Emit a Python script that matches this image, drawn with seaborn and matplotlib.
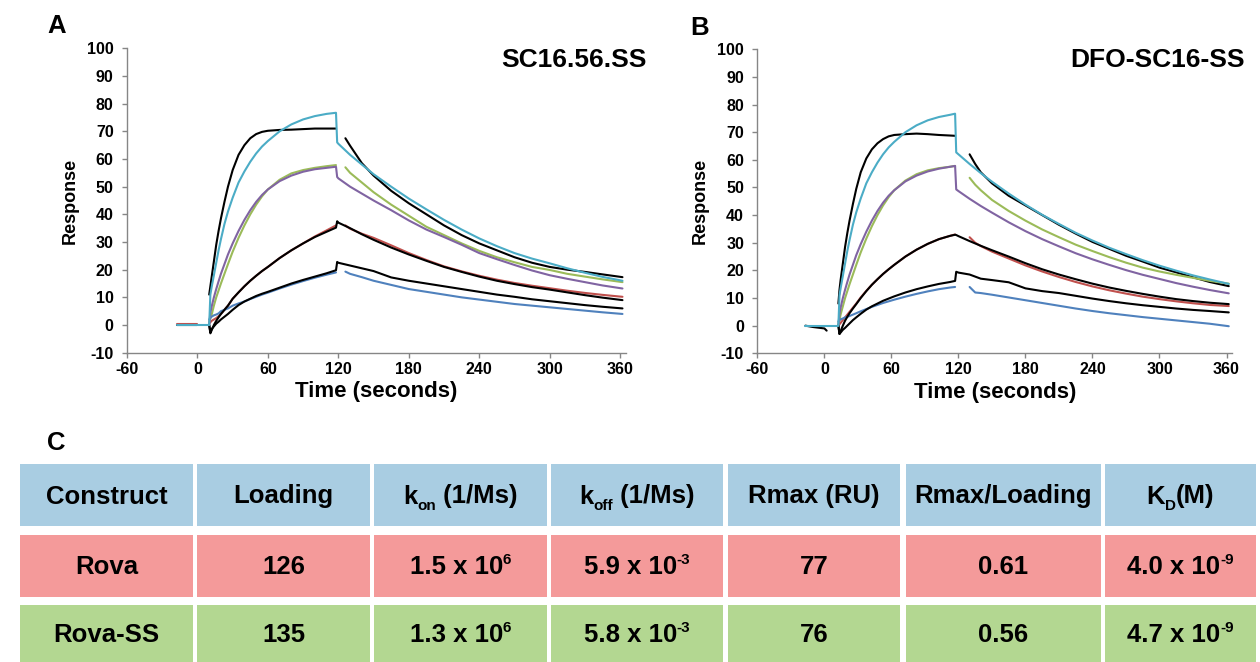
import matplotlib
matplotlib.use("Agg")
import matplotlib.pyplot as plt
import seaborn as sns
from matplotlib.patches import Rectangle

# ---------------- data ----------------
# Panel A : SC16.56.SS
A_T_BASE_FIT = [-17, 10]
A_T_BASE_DATA = [-17, 0]
A_T_ASSOC = [10, 11, 12, 14, 16, 18, 20, 23, 26, 30, 35, 40, 45, 50, 55, 60, 70, 80, 90, 100, 110, 118]
A_T_FIT_DISS = [119, 120, 130, 140, 150, 165, 180, 195, 210, 225, 240, 255, 270, 285, 300, 315, 330, 345, 362]
A_T_DATA_DISS = [126, 130, 140, 150, 165, 180, 195, 210, 225, 240, 255, 270, 285, 300, 315, 330, 345, 362]

A_CYAN_ASSOC = [0, 11, 13.5, 18, 22.5, 27, 31, 36.5, 41, 46, 51.5, 55.5, 59, 62, 64.5, 66.5, 70, 72.5, 74.3, 75.5, 76.3, 76.7]
A_CYAN_DISS = [66, 65.5, 61.5, 58, 54.5, 50, 45.7, 41.8, 38, 34.5, 31.3, 28.5, 26, 24, 22.3, 20.5, 18.9, 17.4, 16]
A_BLACK_ASSOC = [11, 14, 17, 23, 29, 34, 38.5, 44.5, 50, 56, 61.5, 65, 67.5, 69, 69.8, 70.2, 70.5, 70.6, 70.8, 71, 71, 71]
A_BLACK_DISS = [67.5, 64.8, 58.5, 54, 48.5, 44, 40, 36, 32.5, 29.5, 27, 24.5, 22.5, 21, 20, 19.2, 18.3, 17.3]
A_GREEN_ASSOC = [1, 2.5, 3.5, 7, 10, 12.5, 15, 18.5, 22, 26.5, 31.5, 36, 40, 43.5, 46.5, 49, 52.5, 54.8, 56, 56.8, 57.4, 57.8]
A_GREEN_DISS = [57, 55, 51.5, 48, 43.5, 39.5, 35.5, 32.5, 29.5, 26.8, 24.5, 22.7, 21, 19.9, 18.5, 17.5, 16.5, 15.5]
A_PURPLE_ASSOC = [0, 4.5, 6.5, 10, 13, 15.8, 18.5, 22, 25.5, 29.5, 34, 38, 41.5, 44.5, 47, 49, 52, 54, 55.4, 56.3, 56.8, 57.2]
A_PURPLE_DISS = [53.5, 53, 50, 47.5, 45, 41.5, 37.8, 34.5, 31.8, 29, 26, 23.8, 21.7, 19.7, 18, 16.7, 15.5, 14.3, 13.2]
A_RED_ASSOC = [0.5, 1, 1.5, 2, 2.5, 3.2, 4, 5.5, 7, 9.5, 11.8, 14, 16, 17.8, 19.5, 21, 24.2, 27, 29.5, 32, 34.2, 36]
A_RED_DISS = [36, 34.8, 33, 31.5, 28.8, 26, 23.5, 21.2, 19.4, 17.8, 16.4, 15.2, 14.2, 13.3, 12.4, 11.6, 10.9, 10.2]
A_FITMID_ASSOC = [0, -3, -2, 0, 1.5, 2.8, 4, 5.5, 7, 9.5, 11.8, 14, 16, 17.8, 19.5, 21, 24.2, 27, 29.5, 31.8, 33.7, 35.2]
A_FITMID_DISS = [37.5, 37, 35, 32.8, 30.8, 28, 25.5, 23.2, 21, 19.2, 17.5, 16, 14.8, 13.7, 12.8, 11.8, 10.8, 9.9, 9]
A_BLUE_ASSOC = [2, 2.5, 3, 3.5, 3.8, 4.2, 5, 5.5, 6, 7, 7.8, 8.5, 9.4, 10.2, 11, 11.7, 13.2, 14.6, 15.9, 17.1, 18.2, 19]
A_BLUE_DISS = [19.3, 18.5, 17.3, 16, 14.5, 13, 12, 11, 10, 9.2, 8.4, 7.6, 7, 6.4, 5.8, 5.2, 4.6, 4]
A_FITLOW_ASSOC = [0, -2.5, -1.5, -0.5, 0.5, 1.2, 2, 3, 4, 5.5, 7.2, 8.5, 9.5, 10.5, 11.3, 12, 13.5, 15, 16.3, 17.5, 18.7, 19.8]
A_FITLOW_DISS = [22.8, 22.5, 21.5, 20.5, 19.5, 17.2, 16, 15, 14, 13, 12, 11, 10.2, 9.3, 8.6, 7.9, 7.2, 6.6, 6]

# Panel B : DFO-SC16-SS
B_T_BASE_FIT = [-17, 12.5]
B_T_BASE_DATA = [-17, -10, 0, 2]
B_BASE_DATA = [0, -0.5, -1, -1.8]
B_T_ASSOC = [12.5, 13.5, 14.5, 16.5, 18.5, 20.5, 22.5, 25.5, 28.5, 32.5, 37.5, 42.5, 47.5, 52.5, 57.5, 62.5, 72.5, 82.5, 92.5, 102.5, 112.5, 117]
B_T_FIT_DISS = [118, 120, 130, 140, 150, 165, 180, 195, 210, 225, 240, 255, 270, 285, 300, 315, 330, 345, 362]
B_T_DATA_DISS = [130, 135, 140, 150, 165, 180, 195, 210, 225, 240, 255, 270, 285, 300, 315, 330, 345, 362]

B_CYAN_ASSOC = [0, 11, 13.5, 18, 22.5, 27, 31, 36.5, 41, 46, 51.5, 55.5, 59, 62, 64.5, 66.5, 70, 72.5, 74.3, 75.5, 76.3, 76.7]
B_CYAN_DISS = [62.7, 62, 58.5, 55.2, 52.1, 47.8, 43.8, 40.1, 36.8, 33.6, 30.8, 28.2, 25.9, 23.7, 21.7, 19.9, 18.2, 16.7, 15.1]
B_BLACK_ASSOC = [8, 13, 16.5, 22.5, 28.5, 33.5, 38, 44, 49.5, 55.5, 60.5, 63.8, 66, 67.5, 68.5, 69, 69.3, 69.5, 69.3, 69, 68.8, 68.7]
B_BLACK_DISS = [62, 58.5, 55.5, 51.5, 47, 43.5, 40, 36.5, 33.3, 30.3, 27.8, 25.3, 23.2, 21, 19.3, 17.5, 15.8, 14.3]
B_GREEN_ASSOC = [0.5, 2, 4, 7, 10, 12.5, 15, 18.5, 22, 26.5, 31.5, 36, 40, 43.5, 46.5, 49, 52.5, 54.8, 56.2, 57, 57.5, 57.8]
B_GREEN_DISS = [53.5, 51, 49, 45.5, 41.5, 38, 34.8, 32, 29.3, 27, 24.8, 22.8, 21, 19.6, 18.4, 17.3, 16.2, 15.2]
B_PURPLE_ASSOC = [0, 4.5, 6.5, 10, 13, 15.8, 18.5, 22, 25.5, 29.5, 34, 38, 41.5, 44.5, 47, 49, 52.2, 54.3, 55.8, 56.8, 57.5, 57.8]
B_PURPLE_DISS = [49.3, 48.7, 45.9, 43.3, 40.9, 37.4, 34.2, 31.3, 28.7, 26.2, 24, 22, 20.1, 18.4, 16.9, 15.4, 14.1, 12.9, 11.7]
B_RED_ASSOC = [0, 0.5, 1, 2, 3, 4, 5, 6.5, 8, 10.2, 12.6, 14.8, 16.8, 18.7, 20.4, 22, 25, 27.5, 29.6, 31.3, 32.5, 33]
B_RED_DISS = [32, 30, 28.8, 26.8, 24.3, 21.8, 19.6, 17.6, 15.8, 14.2, 12.8, 11.6, 10.5, 9.6, 8.8, 8.1, 7.5, 7.1]
B_FITMID_ASSOC = [0, -3, -2, 0, 1.8, 3.2, 4.5, 6.2, 7.8, 10, 12.5, 14.8, 16.8, 18.7, 20.4, 22, 25, 27.5, 29.6, 31.3, 32.5, 32.9]
B_FITMID_DISS = [32.8, 32.4, 30.6, 28.9, 27.3, 25, 22.6, 20.4, 18.5, 16.8, 15.2, 13.8, 12.6, 11.5, 10.5, 9.6, 8.9, 8.3, 7.8]
B_BLUE_ASSOC = [1.5, 2, 2.3, 2.6, 3, 3.2, 3.5, 4, 4.5, 5.2, 6, 6.8, 7.5, 8.2, 8.8, 9.4, 10.5, 11.5, 12.4, 13.2, 13.8, 14]
B_BLUE_DISS = [14, 12, 11.8, 11.2, 10.2, 9.2, 8.2, 7.2, 6.2, 5.3, 4.5, 3.8, 3.1, 2.5, 1.9, 1.3, 0.7, -0.2]
B_FITLOW_ASSOC = [0, -3, -2.5, -1.5, -0.8, 0, 0.8, 2, 3, 4.3, 5.8, 7, 8, 9, 9.8, 10.6, 12, 13.2, 14.2, 15.1, 15.8, 16.2]
B_FITLOW_DISS = [19.5, 19.2, 18.5, 17, 16.5, 15.7, 13.5, 12.5, 11.8, 10.8, 9.8, 8.9, 8.1, 7.4, 6.8, 6.2, 5.7, 5.3, 4.8]

X_TICKS = [-60, 0, 60, 120, 180, 240, 300, 360]
Y_TICKS = [-10, 0, 10, 20, 30, 40, 50, 60, 70, 80, 90, 100]
PANEL_TITLES = ["SC16.56.SS", "DFO-SC16-SS"]

# Table C  (each header: main text, subscript, trailing text)
TABLE_HEADER = [("Construct", "", ""), ("Loading", "", ""), ("k", "on", " (1/Ms)"),
                ("k", "off", " (1/Ms)"), ("Rmax (RU)", "", ""), ("Rmax/Loading", "", ""),
                ("K", "D", "(M)")]
CONSTRUCTS = ["Rova", "Rova-SS"]
LOADING = [126, 135]
KON_MANT = ["1.5", "1.3"]
KON_EXP = ["6", "6"]
KOFF_MANT = ["5.9", "5.8"]
KOFF_EXP = ["-3", "-3"]
RMAX = [77, 76]
RMAX_RATIO = ["0.61", "0.56"]
KD_MANT = ["4.0", "4.7"]
KD_EXP = ["-9", "-9"]

# ---------------- style ----------------
sns.set_theme(style="white")
plt.rcParams["font.family"] = ["Liberation Sans", "DejaVu Sans"]
plt.rcParams["axes.unicode_minus"] = False
plt.rcParams["text.color"] = "black"
plt.rcParams["axes.labelcolor"] = "black"
plt.rcParams["xtick.color"] = "black"
plt.rcParams["ytick.color"] = "black"

C_BLACK = "#000000"
C_CYAN = "#4BACC6"
C_GREEN = "#9BBB59"
C_PURPLE = "#8064A2"
C_RED = "#C0504D"
C_BLUE = "#4F81BD"
SPINE = "#868686"

W, H = 1260, 662
fig = plt.figure(figsize=(12.6, 6.62), dpi=100)
fig.patch.set_facecolor("white")

axA = fig.add_axes([127 / W, 1 - 352.7 / H, 499 / W, 304.4 / H])
axB = fig.add_axes([757.4 / W, 1 - 353.3 / H, 474.7 / W, 304.0 / H])


def seg(ax, t, y, color, lw=1.5, z=2):
    sns.lineplot(x=list(t), y=list(y), ax=ax, color=color, linewidth=lw,
                 sort=False, estimator=None, legend=False, zorder=z)


def draw_panel(ax, tbf, tbd, based, ta, tfd, tdd,
               cyan_a, cyan_d, blk_a, blk_d, grn_a, grn_d, pur_a, pur_d,
               red_a, red_d, fm_a, fm_d, blu_a, blu_d, fl_a, fl_d, red_base):
    if red_base:
        seg(ax, tbd, [0] * len(tbd), C_BLACK, z=2)
        seg(ax, tbd, [0.3] * len(tbd), C_RED, z=3)
    else:
        seg(ax, tbd, based, C_BLACK, z=2)
    seg(ax, tbf, [0, 0], C_CYAN, z=6)
    seg(ax, ta, blk_a, C_BLACK, z=3)
    seg(ax, tdd, blk_d, C_BLACK, z=3)
    seg(ax, ta, grn_a, C_GREEN, z=3)
    seg(ax, tdd, grn_d, C_GREEN, z=3)
    seg(ax, ta, red_a, C_RED, z=3)
    seg(ax, tdd, red_d, C_RED, z=3)
    seg(ax, ta, blu_a, C_BLUE, z=3)
    seg(ax, tdd, blu_d, C_BLUE, z=3)
    tf = list(ta) + list(tfd)
    seg(ax, tf, list(pur_a) + list(pur_d), C_PURPLE, z=4)
    seg(ax, tf, list(fm_a) + list(fm_d), C_BLACK, z=4)
    seg(ax, tf, list(fl_a) + list(fl_d), C_BLACK, z=4)
    seg(ax, tf, list(cyan_a) + list(cyan_d), C_CYAN, z=5)


draw_panel(axA, A_T_BASE_FIT, A_T_BASE_DATA, None, A_T_ASSOC, A_T_FIT_DISS, A_T_DATA_DISS,
           A_CYAN_ASSOC, A_CYAN_DISS, A_BLACK_ASSOC, A_BLACK_DISS, A_GREEN_ASSOC, A_GREEN_DISS,
           A_PURPLE_ASSOC, A_PURPLE_DISS, A_RED_ASSOC, A_RED_DISS, A_FITMID_ASSOC, A_FITMID_DISS,
           A_BLUE_ASSOC, A_BLUE_DISS, A_FITLOW_ASSOC, A_FITLOW_DISS, True)
draw_panel(axB, B_T_BASE_FIT, B_T_BASE_DATA, B_BASE_DATA, B_T_ASSOC, B_T_FIT_DISS, B_T_DATA_DISS,
           B_CYAN_ASSOC, B_CYAN_DISS, B_BLACK_ASSOC, B_BLACK_DISS, B_GREEN_ASSOC, B_GREEN_DISS,
           B_PURPLE_ASSOC, B_PURPLE_DISS, B_RED_ASSOC, B_RED_DISS, B_FITMID_ASSOC, B_FITMID_DISS,
           B_BLUE_ASSOC, B_BLUE_DISS, B_FITLOW_ASSOC, B_FITLOW_DISS, False)

for ax in (axA, axB):
    ax.set_xlim(-60, 365)
    ax.set_ylim(-10, 100)
    ax.set_xticks(X_TICKS)
    ax.set_yticks(Y_TICKS)
    ax.set_xticklabels([str(v) for v in X_TICKS])
    ax.set_yticklabels([str(v) for v in Y_TICKS])
    ax.set_facecolor("white")
    for s in ("top", "right"):
        ax.spines[s].set_visible(False)
    for s in ("left", "bottom"):
        ax.spines[s].set_color(SPINE)
        ax.spines[s].set_linewidth(1.0)
    ax.tick_params(axis="both", which="major", direction="out", length=3.6, width=1.0,
                   color=SPINE, labelsize=11.5, labelcolor="black", bottom=True, left=True)
    ax.tick_params(axis="y", pad=6)
    ax.tick_params(axis="x", pad=3)
    for lbl in ax.get_xticklabels() + ax.get_yticklabels():
        lbl.set_fontweight("bold")
    ax.set_xlabel("Time (seconds)", fontsize=16, fontweight="bold", labelpad=3, color="black")
    ax.set_ylabel("Response", fontsize=13, fontweight="bold", labelpad=6, color="black")
    ax.grid(False)


def fx(px):
    return px / W


def fy(py):
    return 1 - py / H


fig.text(fx(647), fy(67), PANEL_TITLES[0], ha="right", va="baseline", fontsize=19,
         fontweight="bold", color="black")
fig.text(fx(1244.5), fy(67), PANEL_TITLES[1], ha="right", va="baseline", fontsize=19,
         fontweight="bold", color="black")
fig.text(fx(47), fy(33), "A", ha="left", va="baseline", fontsize=18.5, fontweight="bold", color="black")
fig.text(fx(690), fy(35), "B", ha="left", va="baseline", fontsize=18.5, fontweight="bold", color="black")
fig.text(fx(47), fy(450), "C", ha="left", va="baseline", fontsize=18.5, fontweight="bold", color="black")

# ---------------- table C ----------------
tax = fig.add_axes([0, 0, 1, 1], zorder=-1)
tax.set_xlim(0, W)
tax.set_ylim(H, 0)
tax.axis("off")

COL_EDGES = [(20, 193), (197, 370), (374, 547), (551, 723), (728, 900), (906, 1101), (1105, 1256)]
ROW_EDGES = [(464, 526), (534.5, 597), (605, 668)]
ROW_BASELINES = [503.5, 574, 642]
ROW_COLORS = ["#A9CDE2", "#F49A9A", "#B3D791"]
FS_MAIN = 18.5
FS_SMALL = 11

renderer = fig.canvas.get_renderer()


def text_width(s, fs):
    if not s:
        return 0.0
    t = tax.text(0, 0, s, fontsize=fs, fontweight="bold")
    w = t.get_window_extent(renderer=renderer).width
    t.remove()
    return w


def rich_text(xc, yb, main, small, tail, mode):
    w1 = text_width(main, FS_MAIN)
    w2 = text_width(small, FS_SMALL)
    w3 = text_width(tail, FS_MAIN)
    x = xc - (w1 + w2 + w3) / 2
    tax.text(x, yb, main, ha="left", va="baseline", fontsize=FS_MAIN, fontweight="bold",
             color="black")
    if small:
        dy = 6 if mode == "sub" else -10
        tax.text(x + w1, yb + dy, small, ha="left", va="baseline", fontsize=FS_SMALL,
                 fontweight="bold", color="black")
    if tail:
        tax.text(x + w1 + w2, yb, tail, ha="left", va="baseline", fontsize=FS_MAIN,
                 fontweight="bold", color="black")


body = []
for i in range(len(CONSTRUCTS)):
    body.append([
        (CONSTRUCTS[i], "", ""),
        (str(LOADING[i]), "", ""),
        (KON_MANT[i] + " x 10", KON_EXP[i], ""),
        (KOFF_MANT[i] + " x 10", KOFF_EXP[i], ""),
        (str(RMAX[i]), "", ""),
        (RMAX_RATIO[i], "", ""),
        (KD_MANT[i] + " x 10", KD_EXP[i], ""),
    ])

for r, (y0, y1) in enumerate(ROW_EDGES):
    for c, (x0, x1) in enumerate(COL_EDGES):
        tax.add_patch(Rectangle((x0, y0), x1 - x0, y1 - y0, facecolor=ROW_COLORS[r],
                                edgecolor="none"))
        if r == 0:
            main, small, tail = TABLE_HEADER[c]
            rich_text((x0 + x1) / 2, ROW_BASELINES[r], main, small, tail, "sub")
        else:
            main, small, tail = body[r - 1][c]
            rich_text((x0 + x1) / 2, ROW_BASELINES[r], main, small, tail, "sup")

fig.savefig("out.png", dpi=100, facecolor="white")
